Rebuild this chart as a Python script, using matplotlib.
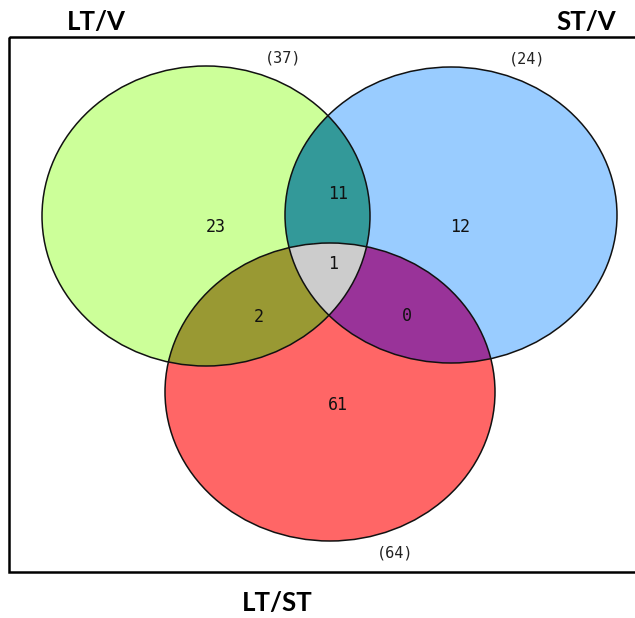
import numpy as np
import matplotlib
matplotlib.use("Agg")
import matplotlib.pyplot as plt
from matplotlib.patches import Ellipse, Rectangle
from matplotlib.colors import to_rgba

# ---- data ----
set_names = ["LT/V", "ST/V", "LT/ST"]
set_totals = [37, 24, 64]
# region keys: (inA, inB, inC)
region_keys = ["A", "B", "C", "AB", "AC", "BC", "ABC"]
region_counts = [23, 12, 61, 11, 2, 0, 1]
region_colors = ["#CCFF99", "#99CCFF", "#FF6666", "#339999", "#999933", "#993399", "#CCCCCC"]

# ---- layout (pixel coordinates) ----
W, H = 635, 618
ellipses = [  # cx, cy, width, height
    (206, 216, 328, 300),
    (451, 215, 332, 296),
    (330, 392, 330, 298),
]
region_pos = {"A": (216, 227), "B": (460, 227), "C": (338, 405),
              "AB": (338, 194), "AC": (259, 317), "BC": (407, 316), "ABC": (333, 264)}
total_pos = [(283, 58), (527, 59), (395, 553)]
name_pos = [(96, 22), (586, 22), (277, 603)]

fig = plt.figure(figsize=(W / 100, H / 100), dpi=100)
ax = fig.add_axes([0, 0, 1, 1])
ax.set_xlim(0, W)
ax.set_ylim(H, 0)
ax.axis("off")

# membership grid
step = 0.5
xs = np.arange(0, W, step) + step / 2
ys = np.arange(0, H, step) + step / 2
X, Y = np.meshgrid(xs, ys)
masks = []
for cx, cy, w, h in ellipses:
    masks.append(((X - cx) / (w / 2)) ** 2 + ((Y - cy) / (h / 2)) ** 2 <= 1)
A, B, C = masks
img = np.zeros(X.shape + (4,))
combos = {
    "A": A & ~B & ~C, "B": ~A & B & ~C, "C": ~A & ~B & C,
    "AB": A & B & ~C, "AC": A & ~B & C, "BC": ~A & B & C, "ABC": A & B & C,
}
for key, col in zip(region_keys, region_colors):
    img[combos[key]] = to_rgba(col)
ax.imshow(img, extent=(0, W, H, 0), interpolation="nearest", zorder=1)

for cx, cy, w, h in ellipses:
    ax.add_patch(Ellipse((cx, cy), w, h, fill=False, ec="#111111", lw=1.1, zorder=2))

# frame
ax.add_patch(Rectangle((9, 37), 640, 535, fill=False, ec="black", lw=1.8, zorder=3))

mono = "DejaVu Sans Mono"
for key, cnt in zip(region_keys, region_counts):
    x, y = region_pos[key]
    ax.text(x, y, str(cnt), ha="center", va="center", fontsize=12,
            family=mono, color="#111111", zorder=4)
for (x, y), tot in zip(total_pos, set_totals):
    ax.text(x, y, f"({tot})", ha="center", va="center", fontsize=11,
            family=mono, color="#222222", zorder=4)
for (x, y), name in zip(name_pos, set_names):
    ax.text(x, y, name, ha="center", va="center", fontsize=18.5,
            family=["Lato", "DejaVu Sans"], fontweight="bold", color="black", zorder=4)

fig.savefig("out.png", dpi=100, facecolor="white")
